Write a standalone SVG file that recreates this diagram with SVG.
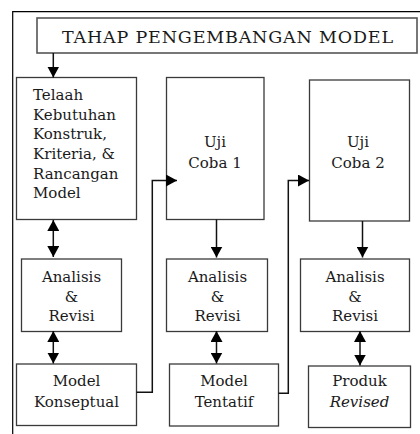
<svg xmlns="http://www.w3.org/2000/svg" width="420" height="434" viewBox="0 0 420 434">
<defs>
<style>
.box{fill:#fff;stroke:#3a3a3a;stroke-width:1.3}
.t{font-family:"DejaVu Serif","Liberation Serif",serif;font-size:15px;fill:#1a1a1a}
.c{text-anchor:middle}
.ln{fill:none;stroke:#111;stroke-width:1.5}
.title{font-size:17.5px}
</style>
<marker id="ah" markerUnits="userSpaceOnUse" markerWidth="12" markerHeight="12" viewBox="0 0 12 12" refX="11" refY="6" orient="auto-start-reverse">
<path d="M0,0 L11,6 L0,12 Z" fill="#000"/>
</marker>
</defs>
<rect width="420" height="434" fill="#fff"/>
<path d="M12.7,434 V11.7 H420" fill="none" stroke="#000" stroke-width="1.2"/>

<g id="title">
<rect class="box" x="37" y="18" width="380" height="35" style="stroke:#555;stroke-width:1.6"/>
<text class="t c title" x="227.5" y="42.7" textLength="331" lengthAdjust="spacing">TAHAP PENGEMBANGAN  MODEL</text>
</g>

<g id="telaah">
<rect class="box" x="16.5" y="77.5" width="120" height="142"/>
<text class="t" x="33" y="100">Telaah</text>
<text class="t" x="33" y="119.7">Kebutuhan</text>
<text class="t" x="33" y="139.4">Konstruk,</text>
<text class="t" x="33" y="159">Kriteria, &amp;</text>
<text class="t" x="33" y="178.7">Rancangan</text>
<text class="t" x="33" y="198.4">Model</text>
</g>

<g id="uji1">
<rect class="box" x="166.5" y="77.5" width="97.5" height="142"/>
<text class="t c" x="215" y="147.3">Uji</text>
<text class="t c" x="215" y="168.3">Coba 1</text>
</g>

<g id="uji2">
<rect class="box" x="309.5" y="80" width="100" height="141"/>
<text class="t c" x="358" y="147.3">Uji</text>
<text class="t c" x="358" y="168.3">Coba 2</text>
</g>

<g id="analisis1">
<rect class="box" x="21.5" y="259" width="100" height="72.5"/>
<text class="t c" x="71.5" y="281.7">Analisis</text>
<text class="t c" x="71.5" y="301.5">&amp;</text>
<text class="t c" x="71.5" y="320.5">Revisi</text>
</g>

<g id="analisis2">
<rect class="box" x="166.5" y="259" width="101" height="72.5"/>
<text class="t c" x="217.5" y="281.7">Analisis</text>
<text class="t c" x="217.5" y="301.5">&amp;</text>
<text class="t c" x="217.5" y="320.5">Revisi</text>
</g>

<g id="analisis3">
<rect class="box" x="300.5" y="259" width="109" height="72.5"/>
<text class="t c" x="355" y="281.7">Analisis</text>
<text class="t c" x="355" y="301.5">&amp;</text>
<text class="t c" x="355" y="320.5">Revisi</text>
</g>

<g id="konseptual">
<rect class="box" x="16.5" y="364" width="120" height="61.5"/>
<text class="t c" x="76.5" y="386">Model</text>
<text class="t c" x="76.5" y="406.7">Konseptual</text>
</g>

<g id="tentatif">
<rect class="box" x="169.5" y="364" width="109" height="62"/>
<text class="t c" x="224" y="386">Model</text>
<text class="t c" x="224" y="406.7">Tentatif</text>
</g>

<g id="produk">
<rect class="box" x="308.5" y="366" width="102" height="61.5"/>
<text class="t c" x="359.5" y="386">Produk</text>
<text class="t c" x="359.5" y="406.7" font-style="italic">Revised</text>
</g>

<g id="connectors">
<line class="ln" x1="53.3" y1="53" x2="53.3" y2="77.5" marker-end="url(#ah)"/>
<line class="ln" x1="53.3" y1="220" x2="53.3" y2="257" marker-start="url(#ah)" marker-end="url(#ah)"/>
<line class="ln" x1="53.3" y1="331" x2="53.3" y2="363.5" marker-start="url(#ah)" marker-end="url(#ah)"/>
<line class="ln" x1="216.5" y1="219.5" x2="216.5" y2="257.5" marker-end="url(#ah)"/>
<line class="ln" x1="216.5" y1="331" x2="216.5" y2="363.5" marker-start="url(#ah)" marker-end="url(#ah)"/>
<line class="ln" x1="362.5" y1="221" x2="362.5" y2="257.5" marker-end="url(#ah)"/>
<line class="ln" x1="360" y1="331" x2="360" y2="365.5" marker-start="url(#ah)" marker-end="url(#ah)"/>
<path class="ln" d="M136.5,392.3 H152.3 V180.5 H177" marker-end="url(#ah)"/>
<path class="ln" d="M278.5,393.3 H288.3 V180.5 H309" marker-end="url(#ah)"/>
</g>
</svg>
